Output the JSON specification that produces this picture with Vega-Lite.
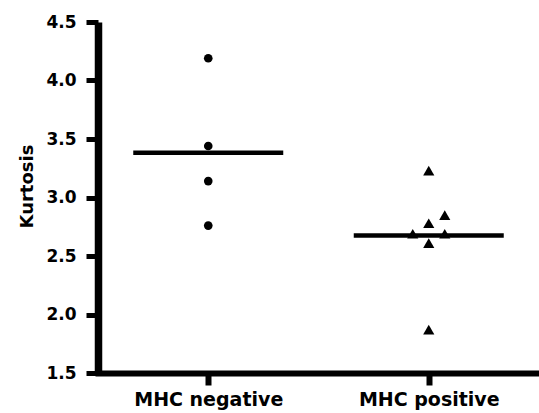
{
  "$schema": "https://vega.github.io/schema/vega-lite/v6.json",
  "width": 441,
  "height": 351,
  "autosize": {"type": "none"},
  "padding": {"left": 98, "top": 22, "right": 0, "bottom": 40},
  "background": "white",
  "config": {
    "view": {"stroke": null}
  },
  "data": {
    "values": [
      {"group": "MHC negative", "kurtosis": 4.19, "lane": 0},
      {"group": "MHC negative", "kurtosis": 3.44, "lane": 0},
      {"group": "MHC negative", "kurtosis": 3.14, "lane": 0},
      {"group": "MHC negative", "kurtosis": 2.76, "lane": 0},
      {"group": "MHC positive", "kurtosis": 3.23, "lane": 0},
      {"group": "MHC positive", "kurtosis": 2.85, "lane": 1},
      {"group": "MHC positive", "kurtosis": 2.78, "lane": 0},
      {"group": "MHC positive", "kurtosis": 2.69, "lane": -1},
      {"group": "MHC positive", "kurtosis": 2.69, "lane": 1},
      {"group": "MHC positive", "kurtosis": 2.61, "lane": 0},
      {"group": "MHC positive", "kurtosis": 1.87, "lane": 0}
    ]
  },
  "layer": [
    {
      "mark": {"type": "point", "filled": true, "opacity": 1, "color": "black"},
      "encoding": {
        "x": {
          "field": "group",
          "type": "nominal",
          "scale": {"type": "point", "padding": 0.5},
          "axis": {
            "title": null, "labelAngle": 0, "labelPadding": 5,
            "domainColor": "black", "domainWidth": 6, "domainCap": "square",
            "tickColor": "black", "tickWidth": 6, "tickSize": 12,
            "labelColor": "black", "labelFont": "DejaVu Sans", "labelFontWeight": "bold", "labelFontSize": 19,
            "grid": false
          }
        },
        "xOffset": {"field": "lane", "type": "quantitative", "scale": {"domain": [-1, 1], "range": [-16, 16]}},
        "y": {
          "field": "kurtosis",
          "type": "quantitative",
          "scale": {"domain": [1.5, 4.5], "nice": false, "zero": false},
          "axis": {
            "title": "Kurtosis", "values": [1.5, 2.0, 2.5, 3.0, 3.5, 4.0, 4.5], "format": ".1f",
            "labelPadding": 10,
            "titleX": -66, "titleY": 164, "titleBaseline": "alphabetic", "titleAngle": -90, "titleAlign": "center",
            "domainColor": "black", "domainWidth": 7.5,
            "tickColor": "black", "tickWidth": 5, "tickSize": 12,
            "labelColor": "black", "labelFont": "DejaVu Sans", "labelFontWeight": "bold", "labelFontSize": 17,
            "titleColor": "black", "titleFont": "DejaVu Sans", "titleFontWeight": "bold", "titleFontSize": 18,
            "grid": false
          }
        },
        "shape": {
          "field": "group",
          "type": "nominal",
          "scale": {"domain": ["MHC negative", "MHC positive"], "range": ["circle", "triangle-up"]},
          "legend": null
        },
        "size": {
          "field": "group",
          "type": "nominal",
          "scale": {"domain": ["MHC negative", "MHC positive"], "range": [75, 125]},
          "legend": null
        }
      }
    },
    {
      "mark": {"type": "tick", "color": "black", "size": 150, "thickness": 4.5, "orient": "horizontal", "opacity": 1},
      "encoding": {
        "x": {"field": "group", "type": "nominal"},
        "y": {"aggregate": "mean", "field": "kurtosis", "type": "quantitative"}
      }
    }
  ]
}
